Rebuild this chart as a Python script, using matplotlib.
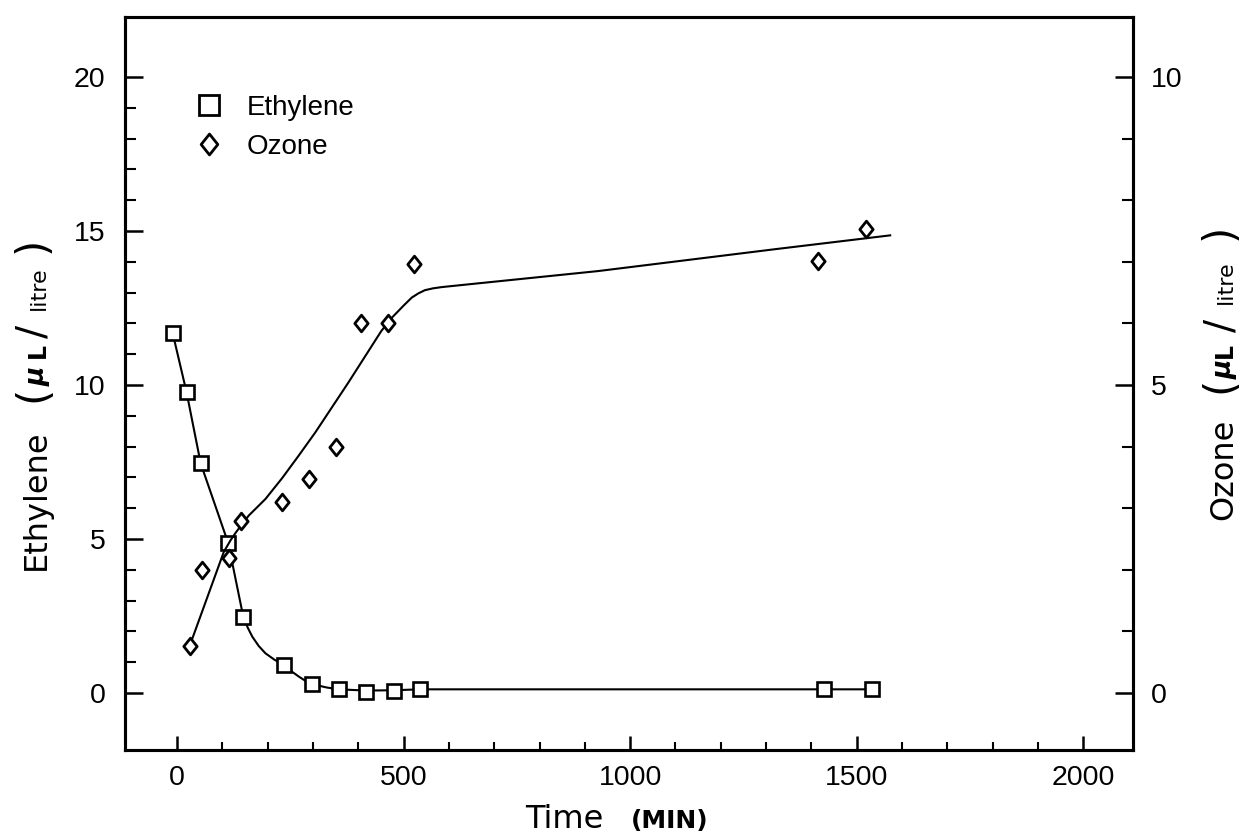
import matplotlib
matplotlib.use("Agg")
import matplotlib.pyplot as plt
from matplotlib.path import Path
from matplotlib.lines import Line2D
from matplotlib.ticker import FixedLocator

# ---------------- data ----------------
eth_time = [-10, 21, 52, 113, 146, 236, 298, 357, 417, 478, 537, 1427, 1533]
eth_vals = [11.7, 9.76, 7.46, 4.86, 2.48, 0.91, 0.29, 0.12, 0.04, 0.07, 0.12, 0.12, 0.12]

# drawn ethylene curve (through the points, smooth decay after 146 min)
eth_fit_time = [-10, 21, 52, 113, 146, 156, 166, 180, 195, 215, 236, 252, 269, 285, 298,
                330, 357, 417, 478, 537, 1427, 1533]
eth_fit_vals = [11.7, 9.76, 7.46, 4.86, 2.48, 2.12, 1.83, 1.53, 1.29, 1.08, 0.91, 0.71,
                0.53, 0.38, 0.29, 0.18, 0.12, 0.08, 0.09, 0.12, 0.12, 0.12]

oz_time = [28, 56, 115, 142, 231, 291, 350, 405, 465, 522, 1414, 1520]
oz_vals = [0.77, 1.99, 2.19, 2.80, 3.10, 3.48, 4.00, 6.00, 6.00, 6.97, 7.01, 7.53]

# drawn ozone curve
oz_fit_time = [28, 103, 118, 130, 158, 195, 232, 268, 305, 378, 451, 475, 500, 518, 533,
               547, 565, 584, 650, 929, 1325, 1574]
oz_fit_vals = [0.77, 2.29, 2.48, 2.61, 2.88, 3.15, 3.49, 3.85, 4.23, 5.04, 5.88, 6.10, 6.29,
               6.42, 6.49, 6.54, 6.57, 6.59, 6.64, 6.85, 7.21, 7.43]

x_ticks = [0, 500, 1000, 1500, 2000]
x_minor = [100, 200, 300, 400, 600, 700, 800, 900, 1100, 1200, 1300, 1400,
           1600, 1700, 1800, 1900]
eth_ticks = [0, 5, 10, 15, 20]
eth_minor = [1, 2, 3, 4, 6, 7, 8, 9, 11, 12, 13, 14, 16, 17, 18, 19]
oz_ticks = [0, 5, 10]
oz_minor = [1, 2, 3, 4, 6, 7, 8, 9]

# ---------------- figure ----------------
W, H = 1239, 835
fig = plt.figure(figsize=(W / 100, H / 100), dpi=100)
L, R, T, B = 125, 1133, 17, 750
ax = fig.add_axes([L / W, 1 - B / H, (R - L) / W, (B - T) / H])
ax2 = ax.twinx()

tickfont = "Liberation Sans"
labfont = "DejaVu Sans"

diamond = Path([(0, 1), (0.8, 0), (0, -1), (-0.8, 0), (0, 1)],
               [Path.MOVETO, Path.LINETO, Path.LINETO, Path.LINETO, Path.CLOSEPOLY])

ax.plot(eth_fit_time, eth_fit_vals, color="black", lw=1.5, zorder=2)
ax.plot(eth_time, eth_vals, ls="none", marker="s", ms=10, mfc="white",
        mec="black", mew=1.9, zorder=3)
ax2.plot(oz_fit_time, oz_fit_vals, color="black", lw=1.5, zorder=2)
ax2.plot(oz_time, oz_vals, ls="none", marker=diamond, ms=12, mfc="white",
         mec="black", mew=2.0, zorder=3)

ax.set_xlim(-115, 2110)
ax.set_ylim(-1.85, 21.95)
ax2.set_ylim(-1.85 / 2, 21.95 / 2)

ax.set_xticks(x_ticks)
ax.set_yticks(eth_ticks)
ax2.set_yticks(oz_ticks)
ax.xaxis.set_minor_locator(FixedLocator(x_minor))
ax.yaxis.set_minor_locator(FixedLocator(eth_minor))
ax2.yaxis.set_minor_locator(FixedLocator(oz_minor))

ax.tick_params(axis="y", which="major", direction="in", length=13, width=1.8,
               labelsize=20.5, pad=14, right=False)
ax.tick_params(axis="y", which="minor", direction="in", length=8, width=1.5, right=False)
ax.tick_params(axis="x", which="major", direction="in", length=10, width=1.8,
               labelsize=20.5, pad=11, top=False)
ax.tick_params(axis="x", which="minor", direction="in", length=6, width=1.5, top=False)
ax2.tick_params(axis="y", which="major", direction="in", length=13, width=1.8,
                labelsize=20.5, pad=13)
ax2.tick_params(axis="y", which="minor", direction="in", length=8, width=1.5)
for lab in ax.get_xticklabels() + ax.get_yticklabels() + ax2.get_yticklabels():
    lab.set_fontfamily(tickfont)

for a in (ax, ax2):
    for s in a.spines.values():
        s.set_linewidth(2.2)

# legend
handles = [
    Line2D([], [], ls="none", marker="s", ms=14, mfc="white", mec="black", mew=2),
    Line2D([], [], ls="none", marker=diamond, ms=15, mfc="white", mec="black", mew=2),
]
leg = ax.legend(handles, ["Ethylene", "Ozone"], loc="upper left",
                bbox_to_anchor=((195 - L) / (R - L), (B - 95) / (B - T)),
                frameon=False, handlelength=1.0, handletextpad=0.85,
                labelspacing=0.45, borderaxespad=0, borderpad=0,
                prop={"family": tickfont, "size": 20})

# axis labels
def px(x, y):
    return x / W, 1 - y / H

def vlabel(xb, pieces):
    for (txt, yc, size, kw) in pieces:
        fig.text(*px(xb, yc), txt, rotation=90, rotation_mode="anchor",
                 ha="center", va="baseline", fontsize=size,
                 family=kw.pop("family", labfont), **kw)

vlabel(45, [
    ("Ethylene", 500, 23, {}),
    ("(", 394, 30, {}),
    ("μ", 376, 19, {"weight": "bold", "style": "italic"}),
    ("L", 351, 17, {"weight": "bold"}),
    ("/", 331, 28, {}),
    ("litre", 288, 16, {}),
    (")", 245, 30, {}),
])
vlabel(1232, [
    ("Ozone", 469, 23, {}),
    ("(", 385, 30, {}),
    ("μ", 369, 19, {"weight": "bold", "style": "italic"}),
    ("L", 351, 17, {"weight": "bold"}),
    ("/", 325, 28, {}),
    ("litre", 282, 16, {}),
    (")", 232, 30, {}),
])

fig.text(*px(564, 828), "Time", ha="center", va="baseline", fontsize=23, family=labfont)
fig.text(*px(670, 828), "(MIN)", ha="center", va="baseline", fontsize=18,
         weight="bold", family=labfont)

fig.savefig("out.png", dpi=100, facecolor="white")
